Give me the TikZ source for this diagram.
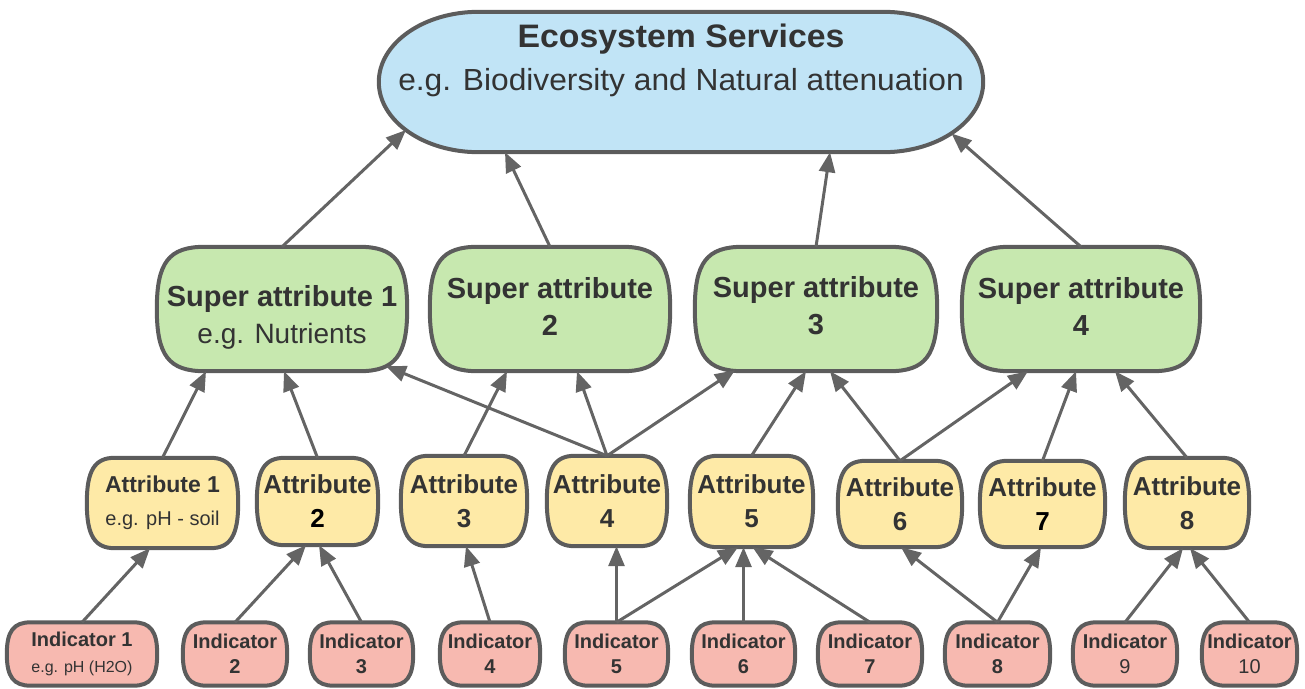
\documentclass[tikz,border=0pt]{standalone}
\usepackage{fontspec}
\setmainfont{Liberation Sans}
\newfontfamily\ecofont[FakeStretch=1.04]{Liberation Sans}
\usetikzlibrary{arrows.meta,calc,backgrounds}
\definecolor{ecofill}{RGB}{193,228,246}
\definecolor{safill}{RGB}{199,232,175}
\definecolor{afill}{RGB}{254,234,167}
\definecolor{ifill}{RGB}{247,185,176}
\definecolor{edgecol}{RGB}{92,92,92}
\definecolor{arrcol}{RGB}{100,100,100}
\definecolor{txt}{RGB}{51,51,51}
\newcommand\fs[2]{\fontsize{#1}{#2}\selectfont}
\tikzset{
  box/.style={draw=none, inner sep=0pt, align=center, text=txt},
  arr/.style={draw=arrcol, line width=3pt, -{Triangle[length=20pt,width=16pt]}},
  outline/.style={draw=edgecol, line width=4pt},
}
\newcommand\capsule[4]{%
  \path[outline, fill=#4] let \p1=(#1.south west), \p2=(#1.north east),
    \n1={#2}, \n4={#3}, \n2={(\y2-\y1)/2}, \n3={(\y2+\y1)/2} in
    (\x1+\n1,\y2) -- (\x2-\n1,\y2)
    .. controls (\x2-\n1+\n4*\n1,\y2) and (\x2,\n3+\n4*\n2) .. (\x2,\n3)
    .. controls (\x2,\n3-\n4*\n2) and (\x2-\n1+\n4*\n1,\y1) .. (\x2-\n1,\y1)
    -- (\x1+\n1,\y1)
    .. controls (\x1+\n1-\n4*\n1,\y1) and (\x1,\n3-\n4*\n2) .. (\x1,\n3)
    .. controls (\x1,\n3+\n4*\n2) and (\x1+\n1-\n4*\n1,\y2) .. cycle;}
\begin{document}
\begin{tikzpicture}[x=1pt,y=1pt]
\useasboundingbox (0,0) rectangle (1305,-688);
% ---- top
\node[box, minimum width=604, minimum height=140] (Eco) at (681,-82) {};
\node[box, font=\ecofont\fs{32.5}{43}] (EcoT) at (681,-60)
  {{\bfseries Ecosystem Services}\\{\fs{30.5}{43}e.g. Biodiversity and Natural attenuation}};
% ---- super attributes
\node[box, minimum width=250, minimum height=124] (SA1) at (282,-309) {};
\node[box, font=\fs{29}{37}] (SA1T) at (282,-317)
  {{\bfseries Super attribute 1}\\{\fs{28}{37}e.g. Nutrients}};
\node[box, minimum width=240, minimum height=124] (SA2) at (550,-309) {};
\node[box, minimum width=242, minimum height=124] (SA3) at (816,-309) {};
\node[box, minimum width=238, minimum height=124] (SA4) at (1081,-309) {};
\node[box, font=\fs{29}{37}\bfseries] (SA2T) at (550,-306) {Super attribute\\2};
\node[box, font=\fs{29}{37}\bfseries] (SA3T) at (816,-306) {Super attribute\\3};
\node[box, font=\fs{29}{37}\bfseries] (SA4T) at (1081,-306) {Super attribute\\4};
% ---- attributes
\node[box, minimum width=151, minimum height=90, font=\fs{23}{33}] (A1) at (162.5,-503)
  {{\bfseries Attribute 1}\\{\fs{20}{33}e.g. pH - soil}};
\node[box, minimum width=121, minimum height=87, font=\fs{26}{34}\bfseries] (A2) at (317.5,-501.5) {Attribute\\{\color{black}2}};
\node[box, minimum width=126, minimum height=90, font=\fs{26}{34}\bfseries] (A3) at (464,-501) {Attribute\\3};
\node[box, minimum width=120, minimum height=90, font=\fs{26}{34}\bfseries] (A4) at (607,-501) {Attribute\\4};
\node[box, minimum width=123, minimum height=91, font=\fs{26}{34}\bfseries] (A5) at (751.5,-501.5) {Attribute\\5};
\node[box, minimum width=124, minimum height=86, font=\fs{26}{34}\bfseries] (A6) at (900,-504) {Attribute\\6};
\node[box, minimum width=125, minimum height=86, font=\fs{26}{34}\bfseries] (A7) at (1042.5,-504) {Attribute\\{\color{black}7}};
\node[box, minimum width=124, minimum height=90, font=\fs{26}{34}\bfseries] (A8) at (1187,-503) {Attribute\\8};
% ---- indicators
\node[box, minimum width=150, minimum height=63, font=\fs{20}{26}] (I1) at (82,-654)
  {{\bfseries Indicator 1}\\{\fs{16}{26}e.g. pH (H2O)}};
\node[box, minimum width=104, minimum height=63, font=\fs{20}{25}\bfseries] (I2) at (235,-654) {Indicator\\2};
\node[box, minimum width=103, minimum height=63, font=\fs{20}{25}\bfseries] (I3) at (361.5,-654) {Indicator\\3};
\node[box, minimum width=100, minimum height=63, font=\fs{20}{25}\bfseries] (I4) at (490,-654) {Indicator\\4};
\node[box, minimum width=103, minimum height=63, font=\fs{20}{25}\bfseries] (I5) at (616.5,-654) {Indicator\\5};
\node[box, minimum width=103, minimum height=63, font=\fs{20}{25}\bfseries] (I6) at (743.5,-654) {Indicator\\6};
\node[box, minimum width=104, minimum height=63, font=\fs{20}{25}\bfseries] (I7) at (870,-654) {Indicator\\7};
\node[box, minimum width=105, minimum height=63, font=\fs{20}{25}\bfseries] (I8) at (997.5,-654) {Indicator\\8};
\node[box, minimum width=104, minimum height=63, font=\fs{20}{25}] (I9) at (1125,-654) {{\bfseries Indicator}\\9};
\node[box, minimum width=95, minimum height=63, font=\fs{20}{25}] (I10) at (1249.5,-654) {{\bfseries Indicator}\\10};
% ---- shapes
\begin{scope}[on background layer]
  \capsule{Eco}{100}{0.5523}{ecofill}
  \capsule{SA1}{48}{0.75}{safill}
  \capsule{SA2}{48}{0.75}{safill}
  \capsule{SA3}{48}{0.75}{safill}
  \capsule{SA4}{48}{0.75}{safill}
  \foreach \nm in {A1,A2,A3,A4,A5,A6,A7,A8} {\capsule{\nm}{28}{0.72}{afill}}
  \foreach \nm in {I1,I2,I3,I4,I5,I6,I7,I8,I9,I10} {\capsule{\nm}{24}{0.72}{ifill}}
\end{scope}
% ---- connectors: indicators -> attributes
\draw[arr] (I1.north) -- ([xshift=-12.5]A1.south);
\draw[arr] (I2.north) -- ([xshift=-11.5]A2.south);
\draw[arr] (I3.north) -- ([xshift=1.5]A2.south);
\draw[arr] (I4.north) -- ([xshift=2]A3.south);
\draw[arr] (I5.north) -- (I5.north |- A4.south);
\draw[arr] (I5.north) -- ([xshift=-13.5]A5.south);
\draw[arr] (I6.north) -- (I6.north |- A5.south);
\draw[arr] (I7.north) -- ([xshift=1]A5.south);
\draw[arr] (I8.north) -- ([xshift=1]A6.south);
\draw[arr] (I8.north) -- ([xshift=-1.5]A7.south);
\draw[arr] (I9.north) -- ([xshift=-4]A8.south);
\draw[arr] (I10.north) -- ([xshift=3]A8.south);
% ---- attributes -> super attributes
\draw[arr] (A1.north) -- ([xshift=-76]SA1.south);
\draw[arr] (A2.north) -- ([xshift=2]SA1.south);
\draw[arr] (A4.north) -- ([xshift=104,yshift=5]SA1.south);
\draw[arr] (A3.north) -- ([xshift=-43]SA2.south);
\draw[arr] (A4.north) -- ([xshift=27]SA2.south);
\draw[arr] (A4.north) -- ([xshift=-81,yshift=1]SA3.south);
\draw[arr] (A5.north) -- ([xshift=-10]SA3.south);
\draw[arr] (A6.north) -- ([xshift=14]SA3.south);
\draw[arr] (A6.north) -- ([xshift=-53]SA4.south);
\draw[arr] (A7.north) -- ([xshift=-5]SA4.south);
\draw[arr] (A8.north) -- ([xshift=34]SA4.south);
% ---- super attributes -> ecosystem services
\draw[arr] (SA1.north) -- ([xshift=-275,yshift=-48]Eco.center);
\draw[arr] (SA2.north) -- ([xshift=-176]Eco.south);
\draw[arr] (SA3.north) -- ([xshift=149]Eco.south);
\draw[arr] (SA4.north) -- ([xshift=270.5,yshift=-51.5]Eco.center);
\end{tikzpicture}
\end{document}
